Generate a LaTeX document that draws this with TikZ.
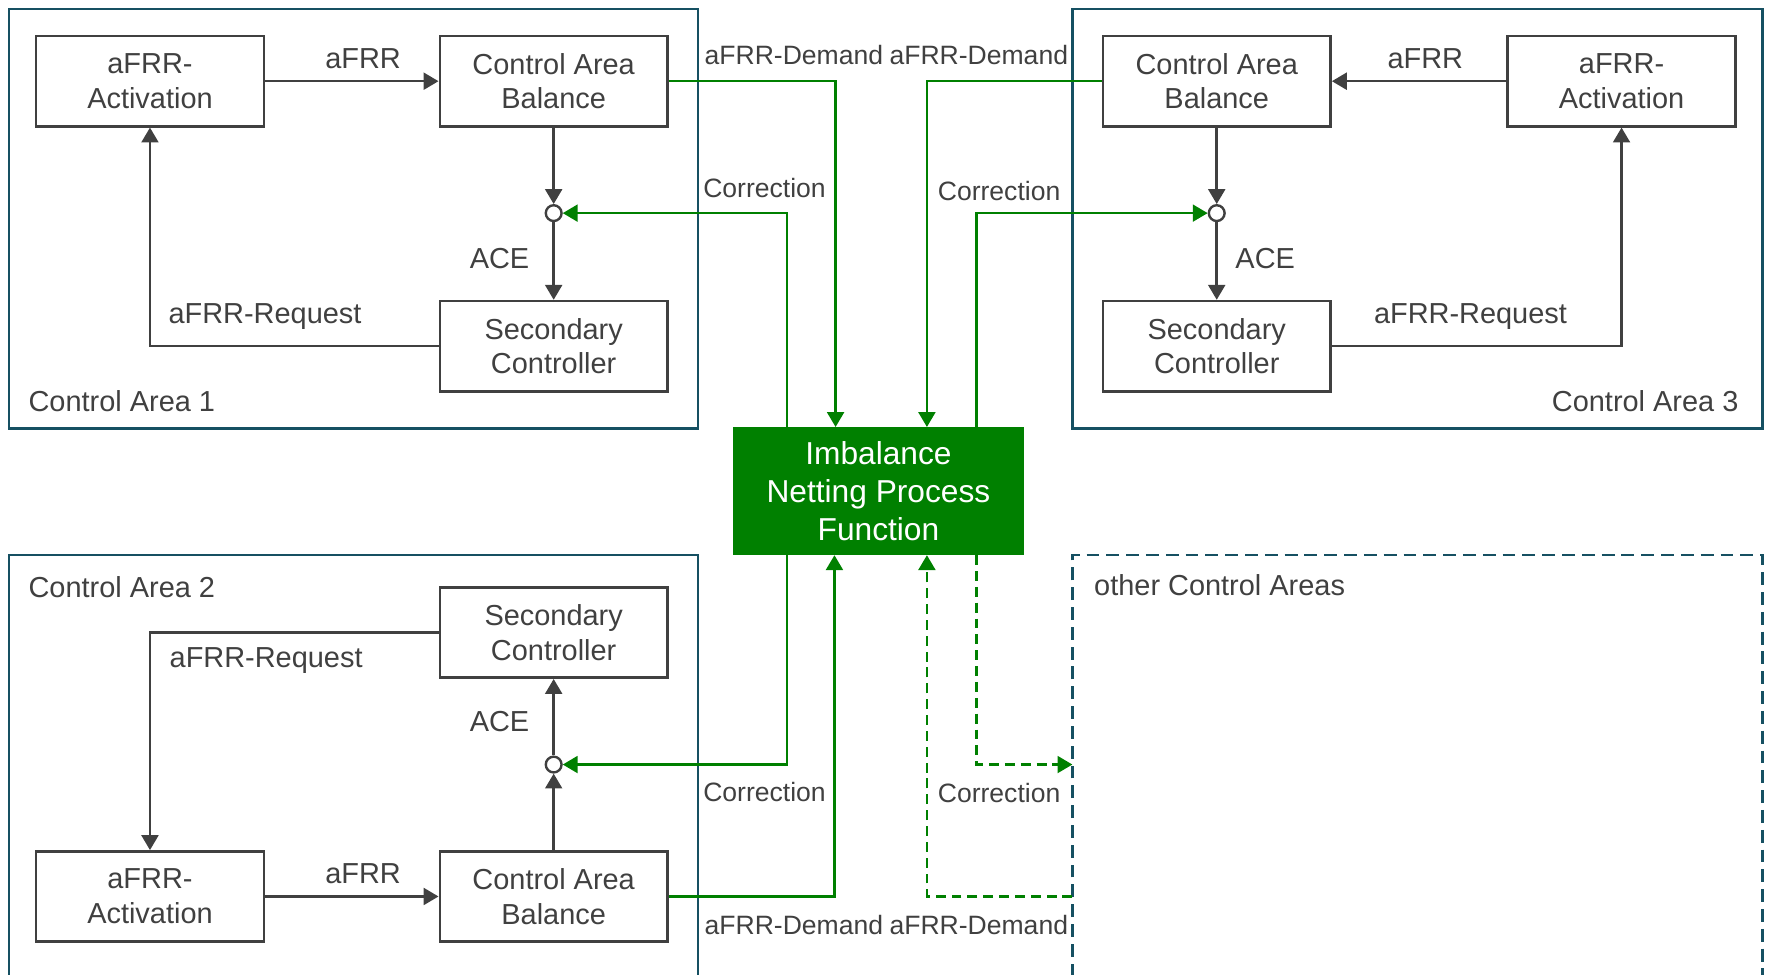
\documentclass[tikz,border=0pt]{standalone}
\usepackage{fontspec}
\setmainfont{Liberation Sans}
\usetikzlibrary{arrows.meta,calc}
\definecolor{frm}{RGB}{22,80,98}
\definecolor{grn}{RGB}{0,128,0}
\definecolor{txt}{RGB}{64,64,64}
\tikzset{
  blk/.style={draw=txt,line width=1.3pt,minimum width=4.04cm,minimum height=1.6cm,inner sep=0pt,align=center,text=txt,font=\fontsize{14.6}{17.6}\selectfont},
  jn/.style={circle,draw=txt,line width=1.2pt,fill=white,minimum size=0.28cm,inner sep=0pt},
  inpfbox/.style={fill=grn,draw=grn,minimum width=5.16cm,minimum height=2.26cm,inner sep=0pt,align=center,text=white,font=\fontsize{16}{19.3}\selectfont},
  arr/.style={draw=txt,line width=1.25pt,-{Triangle[length=7.5pt,width=8.5pt]}},
  garr/.style={draw=grn,line width=1.25pt,-{Triangle[length=7.5pt,width=8.5pt]}},
  gdash/.style={garr,dash pattern=on 5pt off 3pt},
  frame/.style={draw=frm,line width=1.3pt},
  lbl/.style={text=txt,inner sep=0pt,font=\fontsize{14.6}{17.6}\selectfont},
  glbl/.style={text=txt,inner sep=0pt,font=\fontsize{13.4}{16}\selectfont},
}
\begin{document}
\begin{tikzpicture}[x=0.02cm,y=-0.02cm]
\useasboundingbox (0,0) rectangle (1567,863.8);
% frames
\draw[frame] (8,8) rectangle (619,380);
\draw[frame] (951,8) rectangle (1563,380);
\draw[frame] (8,866) -- (8,492) -- (619,492) -- (619,866);
\draw[frame,dash pattern=on 6.5pt off 3.5pt] (951,866) -- (951,492) -- (1563,492) -- (1563,866);
% Control Area 1
\node[blk] (act1) at (133,72) {aFRR-\\Activation};
\node[blk] (cab1) at (491,72) {Control Area\\Balance};
\node[blk] (sc1) at (491,307) {Secondary\\Controller};
\node[jn] (j1) at (491,189) {};
% Control Area 3
\node[blk] (cab3) at (1079,72) {Control Area\\Balance};
\node[blk] (act3) at (1438,72) {aFRR-\\Activation};
\node[blk] (sc3) at (1079,307) {Secondary\\Controller};
\node[jn] (j3) at (1079,189) {};
% Control Area 2
\node[blk] (sc2) at (491,561) {Secondary\\Controller};
\node[jn] (j2) at (491,678) {};
\node[blk] (act2) at (133,795) {aFRR-\\Activation};
\node[blk] (cab2) at (491,795) {Control Area\\Balance};
% central
\node[inpfbox] (inpf) at (779,435.5) {Imbalance\\Netting Process\\Function};
\coordinate (oc1) at (951,678);
\coordinate (oc2) at (951,795);
% CA1 connectors
\draw[arr] (act1) -- (cab1);
\draw[arr] (cab1) -- (j1);
\draw[arr] (j1) -- (sc1);
\draw[arr] (sc1.west) -| (act1.south);
% CA3 connectors
\draw[arr] (act3) -- (cab3);
\draw[arr] (cab3) -- (j3);
\draw[arr] (j3) -- (sc3);
\draw[arr] (sc3.east) -| (act3.south);
% CA2 connectors
\draw[arr] (act2) -- (cab2);
\draw[arr] (cab2) -- (j2);
\draw[arr] (j2) -- (sc2);
\draw[arr] (sc2.west) -| (act2.north);
% green connectors
\draw[garr] (cab1.east) -| ($(inpf.north)+(-38,0)$);
\draw[garr] ($(inpf.north)+(-81,0)$) |- (j1);
\draw[garr] (cab3.west) -| ($(inpf.north)+(43,0)$);
\draw[garr] ($(inpf.north)+(87,0)$) |- (j3);
\draw[garr] ($(inpf.south)+(-81,0)$) |- (j2);
\draw[garr] (cab2.east) -| ($(inpf.south)+(-39,0)$);
\draw[gdash] ($(inpf.south)+(87,0)$) |- (oc1);
\draw[gdash] (oc2) -| ($(inpf.south)+(43,0)$);
% labels
\node[lbl] (l1) at (322,52) {aFRR};
\node[lbl] (l2) at (1264,52) {aFRR};
\node[lbl] (l3) at (322,775) {aFRR};
\node[lbl] (l4) at (443,229) {ACE};
\node[lbl] (l5) at (1122,229) {ACE};
\node[lbl] (l6) at (443,640) {ACE};
\node[lbl] (l7) at (235,281) {aFRR-Request};
\node[lbl] (l8) at (1304,281) {aFRR-Request};
\node[lbl] (l9) at (236,586) {aFRR-Request};
\node[glbl] (d1) at (704,49) {aFRR-Demand};
\node[glbl] (d2) at (868,49) {aFRR-Demand};
\node[glbl] (d3) at (704,820) {aFRR-Demand};
\node[glbl] (d4) at (868,820) {aFRR-Demand};
\node[glbl] (c1) at (678,167) {Correction};
\node[glbl] (c2) at (886,169) {Correction};
\node[glbl] (c3) at (678,702) {Correction};
\node[glbl] (c4) at (886,703) {Correction};
\node[lbl,anchor=west] (t1) at (25,356) {Control Area 1};
\node[lbl,anchor=west] (t2) at (25,521) {Control Area 2};
\node[lbl,anchor=east] (t3) at (1542,356) {Control Area 3};
\node[lbl,anchor=west] (t4) at (970,519) {other Control Areas};
\end{tikzpicture}
\end{document}
